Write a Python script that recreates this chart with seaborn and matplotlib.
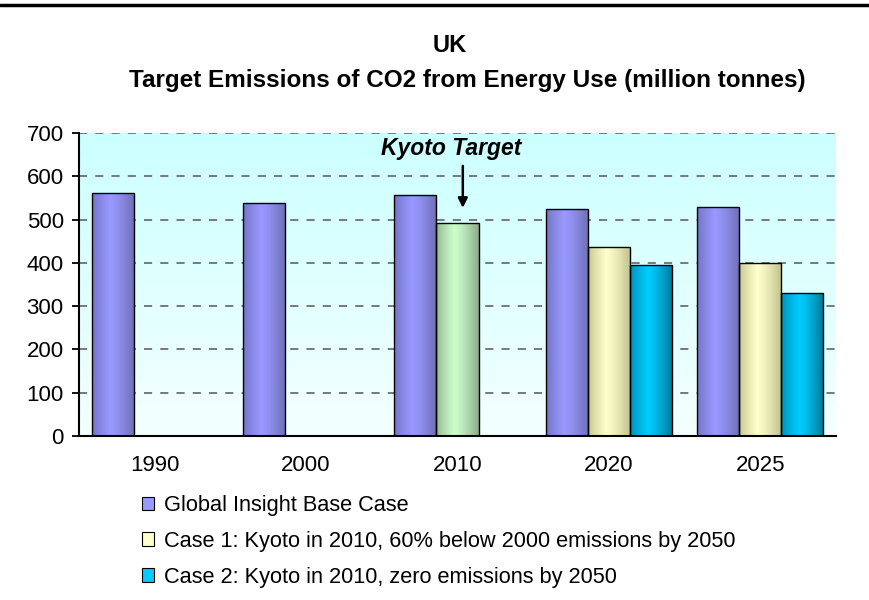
import numpy as np
import pandas as pd
import matplotlib
matplotlib.use("Agg")
import matplotlib.pyplot as plt
import seaborn as sns
from matplotlib.patches import Patch
from matplotlib.lines import Line2D
from matplotlib.colors import to_rgb

years = ["1990", "2000", "2010", "2020", "2025"]
base_case = [562, 539, 557, 525, 530]
case_1 = [np.nan, np.nan, 493, 436, 399]
case_2 = [np.nan, np.nan, np.nan, 396, 331]
series_names = [
    "Global Insight Base Case",
    "Case 1: Kyoto in 2010, 60% below 2000 emissions by 2050",
    "Case 2: Kyoto in 2010, zero emissions by 2050",
]
title_top = "UK"
title_main = "Target Emissions of CO2 from Energy Use (million tonnes)"
kyoto_label = "Kyoto Target"
kyoto_year = "2010"

# (left edge, peak, right edge) colours for the gradient fill
shades = {
    series_names[0]: ("#7272c4", "#9999ff", "#6e6eb4"),
    series_names[1]: ("#c4c490", "#ffffcc", "#c0c08c"),
    series_names[2]: ("#008fb4", "#00ccff", "#007694"),
}
kyoto_shade = ("#90b490", "#ccffcc", "#8cac8c")

rows = []
for name, vals in zip(series_names, [base_case, case_1, case_2]):
    for yr, v in zip(years, vals):
        rows.append({"year": yr, "series": name, "value": v})
df = pd.DataFrame(rows).dropna()

sns.set_style("white")
plt.rcParams["font.family"] = ["Liberation Sans", "DejaVu Sans"]
plt.rcParams["text.color"] = "black"
plt.rcParams["xtick.color"] = "black"
plt.rcParams["ytick.color"] = "black"
plt.rcParams["axes.labelcolor"] = "black"

fig = plt.figure(figsize=(8.7, 6.0), dpi=100)
ax = fig.add_axes([79 / 870, 1 - 436 / 600, (836 - 79) / 870, (436 - 133) / 600])

sns.barplot(data=df, x="year", y="value", hue="series", order=years,
            hue_order=series_names, errorbar=None, width=0.834, ax=ax,
            edgecolor="black", linewidth=1.0)
if ax.legend_ is not None:
    ax.legend_.remove()


def gradient(shade, n=64):
    left, peak, right = [np.array(to_rgb(c)) for c in shade]
    t = np.linspace(0, 1, n)
    out = np.zeros((1, n, 3))
    for i, x in enumerate(t):
        if x < 0.42:
            f = x / 0.42
            out[0, i] = left + (peak - left) * f ** 0.8
        else:
            f = (x - 0.42) / 0.58
            out[0, i] = peak + (right - peak) * f ** 1.3
    return out


k_pos = years.index(kyoto_year)
for name, cont in zip(series_names, ax.containers):
    for bar in cont:
        if np.isnan(bar.get_height()) or bar.get_height() == 0:
            continue
        x0 = bar.get_x()
        w = bar.get_width()
        h = bar.get_height()
        shade = shades[name]
        if name == series_names[1] and abs(x0 + w / 2 - k_pos) < 0.2:
            shade = kyoto_shade
        im = ax.imshow(gradient(shade), extent=[x0, x0 + w, 0, h],
                       aspect="auto", zorder=2, interpolation="bilinear")
        im.set_clip_path(bar)
        bar.set_facecolor("none")
        bar.set_zorder(3)

# plot area background: cyan fading to white
bg = np.linspace(0, 1, 128).reshape(-1, 1)
top = np.array(to_rgb("#ccffff"))
bottom = np.array(to_rgb("#f4ffff"))
bg_img = top + (bottom - top) * bg[..., None]
ax.imshow(bg_img, extent=[0, 1, 0, 1], transform=ax.transAxes,
          aspect="auto", zorder=0)
ax.set_facecolor("white")

ax.set_xlim(-0.5, len(years) - 0.5)
ax.set_ylim(0, 700)
ax.set_yticks(range(0, 701, 100))
ax.yaxis.grid(True, linestyle=(0, (4.5, 4.5)), color="#6e6e6e", linewidth=1.3, zorder=1)
ax.set_axisbelow(True)
ax.xaxis.grid(False)

for s in ["top", "right"]:
    ax.spines[s].set_visible(False)
for s in ["left", "bottom"]:
    ax.spines[s].set_color("black")
    ax.spines[s].set_linewidth(1.5)
    ax.spines[s].set_zorder(4)

ax.set_xlabel("")
ax.set_ylabel("")
ax.set_xticks(np.arange(-0.5, len(years), 1.0), minor=True)
ax.tick_params(axis="x", which="major", length=0, pad=14, labelsize=16)
ax.tick_params(axis="x", which="minor", length=5, width=1.5, color="black", direction="out")
ax.tick_params(axis="y", length=5, width=1.3, color="black", direction="out",
               pad=6, labelsize=16, left=True)

ax.text(k_pos - 0.04, 665, kyoto_label, ha="center", va="center",
        fontsize=16.5, fontweight="bold", fontstyle="italic")
ax.annotate("", xy=(k_pos + 0.035, 527), xytext=(k_pos + 0.035, 624),
            arrowprops=dict(arrowstyle="-|>", color="black", lw=1.8,
                            mutation_scale=14, shrinkA=0, shrinkB=0))

fig.text(450 / 870, 1 - 45 / 600, title_top, ha="center", va="center",
         fontsize=17, fontweight="bold")
fig.text(467 / 870, 1 - 80 / 600, title_main, ha="center", va="center",
         fontsize=17.5, fontweight="bold")
fig.add_artist(Line2D([0, 1], [1 - 5 / 600, 1 - 5 / 600], transform=fig.transFigure,
                      color="black", linewidth=2.5))

handles = [Patch(facecolor=shades[n][1], edgecolor="black", linewidth=0.8)
           for n in series_names]
fig.legend(handles, series_names, loc="upper left",
           bbox_to_anchor=(142 / 870, 1 - 495 / 600), frameon=False,
           fontsize=15.7, handlelength=0.57, handleheight=0.57,
           handletextpad=0.45, labelspacing=0.68, borderpad=0, borderaxespad=0)

fig.savefig("out.png", dpi=100)
